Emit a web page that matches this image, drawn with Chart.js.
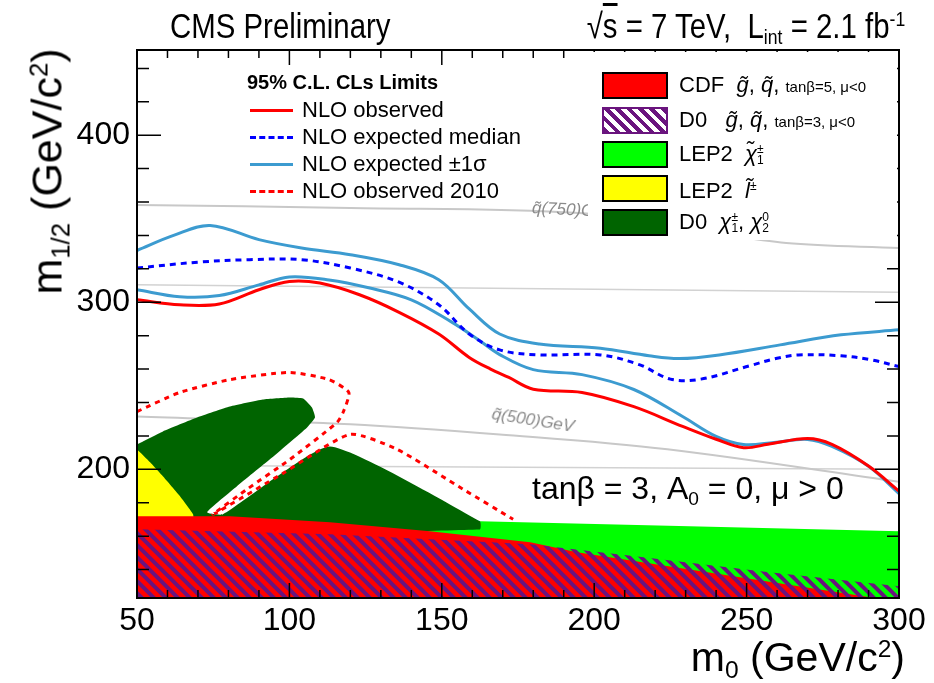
<!DOCTYPE html>
<html>
<head>
<meta charset="utf-8">
<script src="https://cdn.jsdelivr.net/npm/chart.js@4.4.0/dist/chart.umd.min.js"></script>
<style>
  body { margin: 0; background: #fff; }
  #wrap { position: relative; width: 934px; height: 683px; font-family: 'Liberation Sans', Arial, sans-serif; color: #000; }
  #wrap canvas { position: absolute; left: 0; top: 0; }
  .t { position: absolute; white-space: nowrap; line-height: 1; }
  .sub { font-size: 0.6em; position: relative; top: 0.3em; }
  .sup { font-size: 0.6em; position: relative; top: -0.55em; }
  .row { position: absolute; left: 0; height: 26px; display: flex; align-items: center; white-space: nowrap; }
  .ln { width: 43px; height: 0; margin-right: 9px; flex: none; }
  .box { position: absolute; left: 10px; width: 62px; height: 23px; border: 2px solid #000; }
  .lab { position: absolute; left: 87px; font-size: 22px; line-height: 1; white-space: nowrap; }
  .sm { font-size: 15px; }
  .st { display: inline-block; vertical-align: middle; line-height: 0.9; font-size: 12px; text-align: left; }
  .st span { display: block; }
  .gq { position: absolute; color: #8a8a8a; font-style: italic; font-size: 17px; white-space: nowrap; line-height: 1; }
</style>
</head>
<body>
<div id="wrap">
  <canvas id="c" width="934" height="683"></canvas>

  <div class="t" style="left:170px; top:8px; font-size:35px; transform:scaleX(0.84); transform-origin:left top;">CMS Preliminary</div>
  <div class="t" style="right:29px; top:8px; font-size:35px; transform:scaleX(0.84); transform-origin:right top;">&radic;<span style="text-decoration:overline">s</span> = 7 TeV,&nbsp;&nbsp;L<span class="sub">int</span> = 2.1 fb<span class="sup">-1</span></div>

  <div class="t" style="left:-103px; top:150px; width:300px; text-align:center; font-size:43px; transform:rotate(-90deg);">m<span class="sub">1/2</span> (GeV/c<span class="sup">2</span>)</div>
  <div class="t" style="right:29px; top:637px; font-size:41px;">m<span class="sub">0</span> (GeV/c<span class="sup">2</span>)</div>

  <div class="gq" style="left:532px; top:199px; transform:rotate(3deg); transform-origin:left center;">q&#771;(750)GeV</div>
  <div class="gq" style="left:492px; top:405px; transform:rotate(9deg); transform-origin:left center;">q&#771;(500)GeV</div>

  <!-- left legend -->
  <div class="t" style="left:247px; top:72px; font-size:20px; font-weight:bold;">95% C.L. CLs Limits</div>
  <div style="position:absolute; left:250px; top:97px; width:300px; font-size:22px;">
    <div class="row" style="top:0px;"><div class="ln" style="border-top:3px solid #ff0000;"></div>NLO observed</div>
    <div class="row" style="top:27px;"><div class="ln" style="border-top:3px dashed #0000ff;"></div>NLO expected median</div>
    <div class="row" style="top:54px;"><div class="ln" style="border-top:3px solid #3c9bd0;"></div>NLO expected &plusmn;1&sigma;</div>
    <div class="row" style="top:81px;"><div class="ln" style="border-top:3px dashed #ff0000;"></div>NLO observed 2010</div>
  </div>

  <!-- right legend -->
  <div style="position:absolute; left:588px; top:52px; width:309px; height:188px; background:#fff;">
    <div class="box" style="left:14px; top:20px; background:#ff0000;"></div>
    <div class="lab" style="left:91px; top:22px;">CDF&nbsp; <i>g&#771;</i>, <i>q&#771;</i>, <span class="sm">tan&beta;=5, &mu;&lt;0</span></div>
    <div class="box" style="left:14px; top:55px; border-color:#6a147e; background:repeating-linear-gradient(45deg,#6a147e 0 4px,#fff 4px 8px);"></div>
    <div class="lab" style="left:91px; top:57px;">D0&nbsp;&nbsp; <i>g&#771;</i>, <i>q&#771;</i>, <span class="sm">tan&beta;=3, &mu;&lt;0</span></div>
    <div class="box" style="left:14px; top:89px; background:#00ff00;"></div>
    <div class="lab" style="left:91px; top:91px;">LEP2&nbsp; <i>&chi;&#771;</i><span class="st"><span>&plusmn;</span><span>1</span></span></div>
    <div class="box" style="left:14px; top:123px; background:#ffff00;"></div>
    <div class="lab" style="left:91px; top:128px;">LEP2&nbsp; <i>l&#771;</i><span class="st"><span>&plusmn;</span><span>&nbsp;</span></span></div>
    <div class="box" style="left:14px; top:157px; background:#006400;"></div>
    <div class="lab" style="left:91px; top:159px;">D0&nbsp; <i>&chi;</i><span class="st"><span>&plusmn;</span><span>1</span></span>, <i>&chi;</i><span class="st"><span>0</span><span>2</span></span></div>
  </div>

  <div class="t" style="left:532px; top:472px; font-size:32px;">tan&beta; = 3, A<span class="sub">0</span> = 0, &mu; &gt; 0</div>
</div>

<script>
// axis ticks
const xTicks = [50, 100, 150, 200, 250, 300];
const yTicks = [200, 300, 400];

// NLO observed
const obsM0  = [50, 64, 77, 90, 100, 110, 123, 136, 149, 159, 166, 172, 180, 196, 213, 229, 240, 249, 257, 270, 278, 290, 300];
const obsM12 = [301.5, 298.5, 299, 307.5, 312.5, 311.5, 304.5, 294, 281, 267, 260, 255, 248, 246, 237.5, 225.7, 218, 213, 215, 218.5, 215, 202, 187];

// NLO expected median
const medM0  = [50, 70, 87, 104, 120, 136, 149, 159, 169, 182, 202, 215, 225, 235, 251, 260, 267, 281, 291, 300];
const medM12 = [320.5, 324, 325.5, 325.5, 320.5, 312, 298.5, 281, 271.5, 268.5, 268.5, 262.5, 254, 254, 262, 266.5, 268.5, 268, 265.5, 261.5];

// NLO expected +1 sigma / -1 sigma
const upM0   = [50, 62, 74, 90, 104, 120, 136, 149, 159, 169, 182, 202, 218, 228, 241, 261, 281, 300];
const upM12  = [331, 340, 346, 337.5, 332.5, 328.5, 322.5, 313.5, 296, 281, 275, 272.5, 268, 266.3, 268.5, 274.5, 280.5, 283.5];
const lowM0  = [50, 64, 77, 90, 100, 113, 126, 140, 153, 162, 169, 180, 196, 213, 229, 240, 249, 259, 270, 278, 290, 300];
const lowM12 = [307.5, 303.3, 304, 310.4, 315.2, 313.4, 308.7, 301.5, 288.4, 277.6, 268.7, 259.7, 256.7, 247.8, 231.6, 219.7, 214.9, 216.1, 217.9, 213.7, 201.8, 185.5];

// NLO observed 2010
const obs10M0  = [50, 64, 80.5, 100, 113, 119.5, 117.6, 115.6, 100.2, 86.1, 74.9, 76.5, 97.9, 119.9, 135.3, 157, 173.4];
const obs10M12 = [234.6, 246, 253.7, 258, 253.7, 246, 234, 228, 206, 188.1, 173.1, 174.5, 197.6, 220.9, 212, 188.1, 170.1];

// excluded regions (closed outlines)
const cdfM0    = [50, 80.5, 113.3, 146.1, 179, 194.4, 289.5, 289.5, 50, 50];
const cdfM12   = [172, 172, 168.4, 163, 156.4, 150.4, 123.8, 115, 115, 172];
const d0M0     = [50, 113.3, 146.1, 179, 212.7, 256.7, 300, 300, 50, 50];
const d0M12    = [164.2, 161.2, 158.2, 155.2, 148.1, 138.5, 130, 115, 115, 164.2];
const lepChiM0  = [50, 162.5, 300, 300, 50, 50];
const lepChiM12 = [171, 169, 163, 115, 115, 171];
const lepSlM0   = [50, 54.3, 58.5, 64.1, 68.4, 68.4, 50, 50];
const lepSlM12  = [212, 204.2, 195.8, 183.9, 173.1, 164, 164, 212];
const d0ChiM0   = [50, 58.5, 69.7, 80.5, 91.3, 100.2, 104.5, 107.4, 108.4, 105.8, 93.6, 82.8, 73, 78.2, 113.3, 162.5, 162.5, 50, 50];
const d0ChiM12  = [214.9, 222.7, 231, 237.6, 241.8, 243, 242.4, 237, 231, 225.1, 206, 189.9, 174.3, 173.1, 213.7, 168.9, 164, 164, 214.9];

// squark iso-mass lines
const sq750M0  = [50, 120, 195, 235, 263, 300];
const sq750M12 = [358.2, 356.5, 353.4, 343, 335.5, 332.5];
const isoBM0   = [50, 300];
const isoBM12  = [310.5, 306];
const sq500M0  = [50, 120, 169, 224, 300];
const sq500M12 = [231.6, 227, 220.9, 212, 192.5];
const isoDM0   = [50, 300];
const isoDM12  = [202.5, 200];

function pts(xs, ys) {
  return xs.map((x, i) => ({ x: x, y: ys[i] }));
}

function hatch() {
  const c = document.createElement('canvas');
  c.width = 12; c.height = 12;
  const g = c.getContext('2d');
  g.strokeStyle = '#6a147e';
  g.lineWidth = 4;
  g.lineCap = 'square';
  g.beginPath();
  for (let k = -12; k <= 12; k += 12) {
    g.moveTo(-2, k - 2);
    g.lineTo(14, k + 14);
  }
  g.stroke();
  return g.createPattern(c, 'repeat');
}

function line(xs, ys, color, width, dash, order, tension) {
  return {
    data: pts(xs, ys), showLine: true, pointRadius: 0, fill: false,
    borderColor: color, borderWidth: width, borderDash: dash || [],
    tension: tension === undefined ? 0.35 : tension, order: order
  };
}

function area(xs, ys, color, order, tension) {
  return {
    data: pts(xs, ys), showLine: true, pointRadius: 0, fill: 'shape',
    backgroundColor: color, borderColor: 'rgba(0,0,0,0)', borderWidth: 0,
    tension: tension || 0, order: order
  };
}

const frame = {
  id: 'frame',
  afterDatasetsDraw(chart) {
    const { ctx, chartArea: a, scales: { x, y } } = chart;
    ctx.save();
    ctx.strokeStyle = '#000';
    ctx.lineWidth = 1.5;
    ctx.beginPath();
    for (let v = 50; v <= 300; v += 10) {
      const px = x.getPixelForValue(v);
      const len = v % 50 === 0 ? 15 : 8;
      ctx.moveTo(px, a.bottom); ctx.lineTo(px, a.bottom - len);
      ctx.moveTo(px, a.top); ctx.lineTo(px, a.top + len);
    }
    for (let v = 140; v <= 440; v += 20) {
      const py = y.getPixelForValue(v);
      const len = v % 100 === 0 ? 24 : 12;
      ctx.moveTo(a.left, py); ctx.lineTo(a.left + len, py);
      ctx.moveTo(a.right, py); ctx.lineTo(a.right - len, py);
    }
    ctx.stroke();
    ctx.lineWidth = 2;
    ctx.strokeRect(a.left, a.top, a.right - a.left, a.bottom - a.top);
    ctx.restore();
  }
};

const tickFont = { family: "'Liberation Sans', Arial, sans-serif", size: 32 };

new Chart(document.getElementById('c'), {
  type: 'scatter',
  data: {
    datasets: [
      line(obsM0, obsM12, '#ff0000', 3, [], 1),
      line(medM0, medM12, '#0000ff', 3, [6, 5], 2),
      line(upM0, upM12, '#3c9bd0', 3, [], 3),
      line(lowM0, lowM12, '#3c9bd0', 3, [], 4),
      line(obs10M0, obs10M12, '#ff0000', 3, [5, 5], 5, 0.2),
      area(d0M0, d0M12, hatch(), 6),
      area(cdfM0, cdfM12, '#ff0000', 7),
      area(lepSlM0, lepSlM12, '#ffff00', 8, 0.1),
      area(d0ChiM0, d0ChiM12, '#006400', 9, 0.15),
      area(lepChiM0, lepChiM12, '#00ff00', 10),
      line(sq750M0, sq750M12, '#c8c8c8', 2, [], 11),
      line(isoBM0, isoBM12, '#d2d2d2', 1.5, [], 12),
      line(sq500M0, sq500M12, '#c8c8c8', 2, [], 13),
      line(isoDM0, isoDM12, '#d2d2d2', 1.5, [], 14)
    ]
  },
  options: {
    responsive: false,
    animation: false,
    layout: { padding: { top: 50, right: 35, left: 0, bottom: 0 } },
    plugins: { legend: { display: false }, tooltip: { enabled: false } },
    scales: {
      x: {
        type: 'linear', min: 50, max: 300,
        afterBuildTicks: s => { s.ticks = xTicks.map(v => ({ value: v })); },
        afterFit: s => { s.height = 85; },
        grid: { display: false, drawTicks: false },
        border: { display: false },
        ticks: { font: tickFont, color: '#000', padding: 4, maxRotation: 0 }
      },
      y: {
        type: 'linear', min: 123, max: 451,
        afterBuildTicks: s => { s.ticks = yTicks.map(v => ({ value: v })); },
        afterFit: s => { s.width = 137; },
        grid: { display: false, drawTicks: false },
        border: { display: false },
        ticks: { font: tickFont, color: '#000', padding: 7 }
      }
    }
  },
  plugins: [frame]
});
</script>
</body>
</html>
